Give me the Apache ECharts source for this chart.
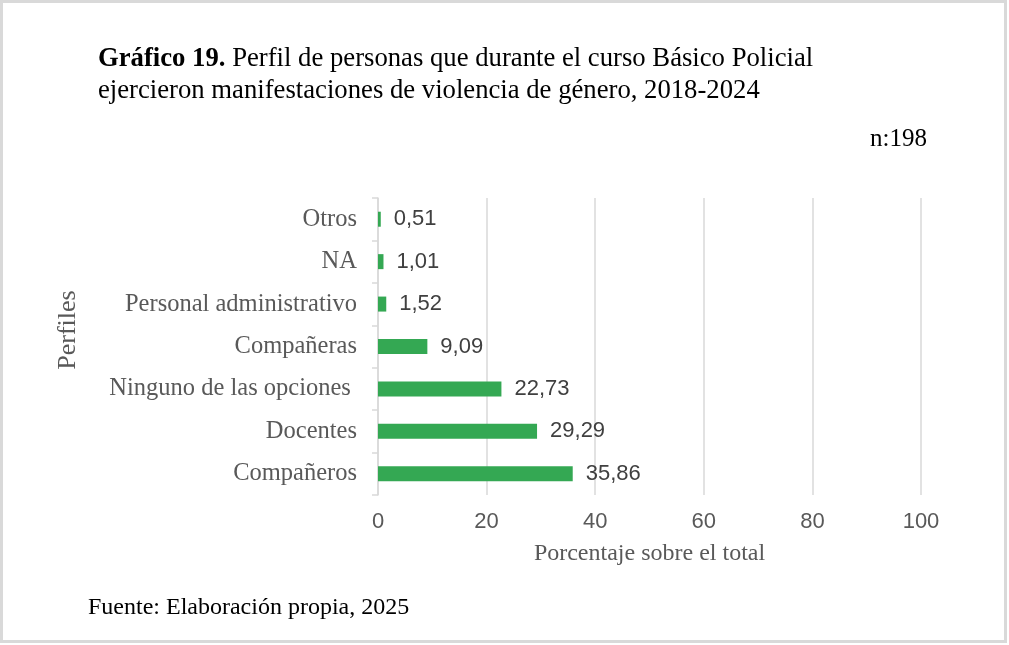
<!DOCTYPE html>
<html>
<head>
<meta charset="utf-8">
<script src="https://cdn.jsdelivr.net/npm/echarts@6/dist/echarts.min.js"></script>
<style>
  html, body { margin: 0; padding: 0; background: #ffffff; }
  #chart { width: 1009px; height: 645px; }
</style>
</head>
<body>
<div id="chart"></div>
<script>
// Profiles, listed bottom-to-top as they appear on the category axis
const categories = ['Compañeros', 'Docentes', 'Ninguno de las opciones ', 'Compañeras', 'Personal administrativo', 'NA', 'Otros'];
// Share of the total (%) for each profile
const values = [35.86, 29.29, 22.73, 9.09, 1.52, 1.01, 0.51];
// Percentage axis ticks
const xTicks = [0, 20, 40, 60, 80, 100];

const serif = '"Liberation Serif", "Times New Roman", serif';
const sans = '"Liberation Sans", Arial, sans-serif';

const chart = echarts.init(document.getElementById('chart'), null, { renderer: 'canvas' });

chart.setOption({
  animation: false,
  backgroundColor: '#ffffff',
  grid: { left: 378, right: 88, top: 198, bottom: 150, containLabel: false },
  xAxis: {
    type: 'value',
    min: xTicks[0],
    max: xTicks[xTicks.length - 1],
    interval: xTicks[1] - xTicks[0],
    axisLine: { show: false },
    axisTick: { show: false },
    splitLine: { show: true, lineStyle: { color: '#d9d9d9', width: 1.5 } },
    axisLabel: {
      margin: 16,
      color: '#595959',
      fontFamily: sans,
      fontSize: 22,
      formatter: v => String(v)
    },
    name: 'Porcentaje sobre el total',
    nameLocation: 'middle',
    nameGap: 47,
    nameTextStyle: { color: '#595959', fontFamily: serif, fontSize: 24 }
  },
  yAxis: {
    type: 'category',
    data: categories,
    axisLine: { show: true, lineStyle: { color: '#d9d9d9', width: 1.5 } },
    axisTick: { show: true, length: 6, lineStyle: { color: '#d9d9d9', width: 1.5 } },
    splitLine: { show: false },
    axisLabel: {
      margin: 21,
      color: '#595959',
      fontFamily: serif,
      fontSize: 24.5
    }
  },
  series: [{
    type: 'bar',
    data: values,
    barWidth: 15,
    itemStyle: { color: '#34a853' },
    label: {
      show: true,
      position: 'right',
      distance: 13,
      color: '#404040',
      fontFamily: sans,
      fontSize: 22,
      formatter: p => p.value.toFixed(2).replace('.', ',')
    }
  }],
  graphic: [
    {
      type: 'rect',
      shape: { x: 1.5, y: 1.5, width: 1004, height: 640 },
      style: { fill: 'none', stroke: '#d9d9d9', lineWidth: 3 },
      silent: true
    },
    {
      type: 'text',
      left: 98,
      top: 43,
      style: {
        text: '{b|Gráfico 19.} Perfil de personas que durante el curso Básico Policial\nejercieron manifestaciones de violencia de género, 2018-2024',
        fontFamily: serif,
        fontSize: 26.7,
        lineHeight: 32,
        fill: '#000000',
        rich: {
          b: { fontFamily: serif, fontSize: 26.7, fontWeight: 'bold', fill: '#000000' }
        }
      }
    },
    {
      type: 'text',
      left: 870,
      top: 127,
      style: { text: 'n:198', fontFamily: serif, fontSize: 25, fill: '#000000' }
    },
    {
      type: 'text',
      x: 68,
      y: 330,
      rotation: Math.PI / 2,
      style: {
        text: 'Perfiles',
        fontFamily: serif,
        fontSize: 26,
        fill: '#595959',
        align: 'center',
        verticalAlign: 'middle'
      }
    },
    {
      type: 'text',
      left: 88,
      top: 596,
      style: { text: 'Fuente: Elaboración propia, 2025', fontFamily: serif, fontSize: 24, fill: '#000000' }
    }
  ]
});
</script>
</body>
</html>
